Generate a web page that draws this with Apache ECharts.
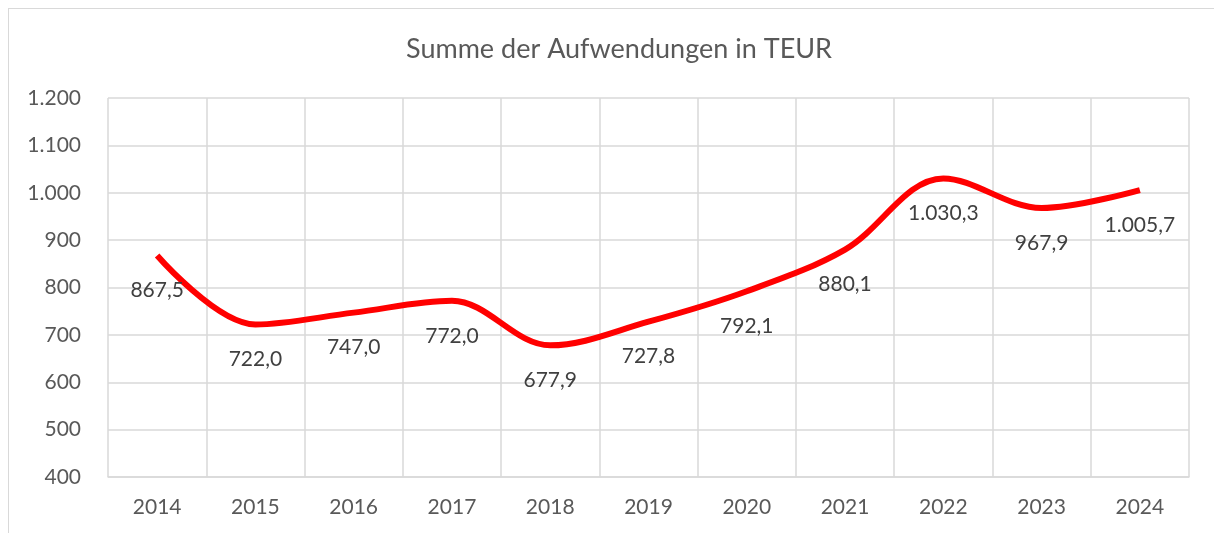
<!DOCTYPE html>
<html>
<head>
<meta charset="utf-8">
<script src="https://cdn.jsdelivr.net/npm/echarts@6/dist/echarts.min.js"></script>
<style>
  html, body { margin: 0; padding: 0; background: #fff; }
  .frame {
    position: absolute; left: 8px; top: 8px;
    width: 1300px; height: 600px;
    border: 1.5px solid #d9d9d9;
  }
  #chart { width: 1214px; height: 533px; position: absolute; left: 0; top: 0; }
</style>
</head>
<body>
<div class="frame"></div>
<div id="chart"></div>
<script>
// Jahre und Aufwendungen (TEUR)
const years = ['2014', '2015', '2016', '2017', '2018', '2019', '2020', '2021', '2022', '2023', '2024'];
const expenses = [867.5, 722.0, 747.0, 772.0, 677.9, 727.8, 792.1, 880.1, 1030.3, 967.9, 1005.7];

function deNum(v, dec) {
  return v.toLocaleString('de-DE', { minimumFractionDigits: dec, maximumFractionDigits: dec });
}

var myChart = echarts.init(document.getElementById('chart'));
var font = 'Lato, "Open Sans", sans-serif';
var option = {
  animation: false,
  title: {
    text: 'Summe der Aufwendungen in TEUR',
    left: 401,
    top: 31,
    textStyle: { fontFamily: font, fontSize: 27, fontWeight: 'normal', color: '#595959' }
  },
  grid: { left: 108, right: 25, top: 98, bottom: 56 },
  xAxis: {
    type: 'category',
    data: years,
    boundaryGap: true,
    axisLine: { lineStyle: { color: '#d9d9d9', width: 1.5 } },
    axisTick: { show: false },
    splitLine: { show: true, interval: 0, lineStyle: { color: '#d9d9d9', width: 1.5 } },
    axisLabel: { fontFamily: font, fontSize: 21, color: '#595959', margin: 20 }
  },
  yAxis: {
    type: 'value',
    min: 400,
    max: 1200,
    interval: 100,
    axisLine: { show: false },
    axisTick: { show: false },
    splitLine: { lineStyle: { color: '#d9d9d9', width: 1.5 } },
    axisLabel: {
      fontFamily: font, fontSize: 21, color: '#595959', margin: 27,
      formatter: function (v) { return deNum(v, 0); }
    }
  },
  series: [{
    type: 'line',
    data: expenses,
    smooth: 0.35,
    symbol: 'circle',
    symbolSize: 1,
    itemStyle: { color: 'rgba(0,0,0,0)' },
    lineStyle: { color: '#ff0000', width: 6 },
    label: {
      show: true,
      position: 'bottom',
      distance: 24,
      fontFamily: font, fontSize: 21, color: '#404040',
      formatter: function (p) { return deNum(p.value, 1); }
    }
  }]
};
option && myChart.setOption(option);
</script>
</body>
</html>
